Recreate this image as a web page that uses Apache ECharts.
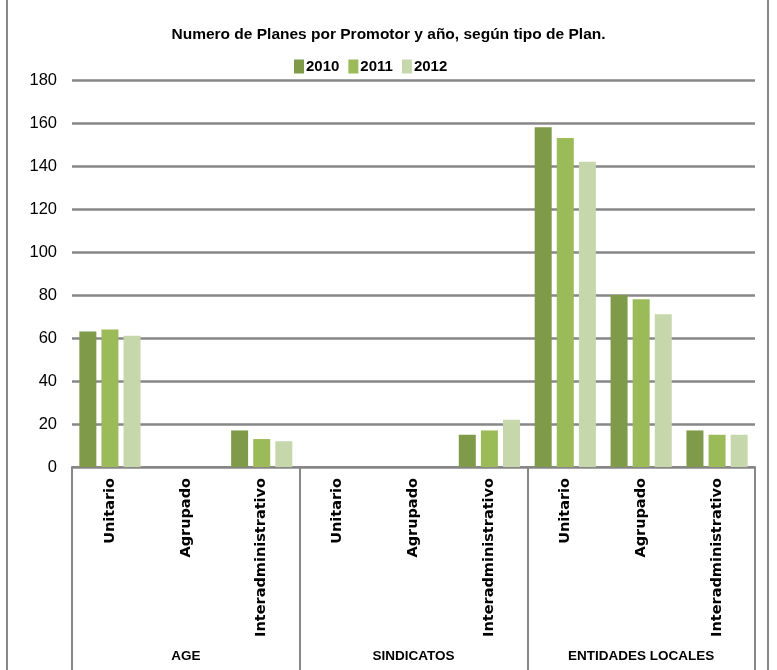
<!DOCTYPE html>
<html>
<head>
<meta charset="utf-8">
<script src="https://cdn.jsdelivr.net/npm/echarts@6/dist/echarts.min.js"></script>
<style>
  html, body { margin: 0; padding: 0; background: #fff; }
  #chart { width: 777px; height: 670px; }
</style>
</head>
<body>
<div id="chart"></div>
<script>
// categories
const tipos = ['Unitario', 'Agrupado', 'Interadministrativo',
               'Unitario', 'Agrupado', 'Interadministrativo',
               'Unitario', 'Agrupado', 'Interadministrativo']
const promotores = ['AGE', 'SINDICATOS', 'ENTIDADES LOCALES']
const years = ['2010', '2011', '2012']

// series values (AGE x3, SINDICATOS x3, ENTIDADES LOCALES x3)
const v2010 = [63, 0, 17, 0, 0, 15, 158, 80, 17]
const v2011 = [64, 0, 13, 0, 0, 17, 153, 78, 15]
const v2012 = [61, 0, 12, 0, 0, 22, 142, 71, 15]

const yTicks = [0, 20, 40, 60, 80, 100, 120, 140, 160, 180]

const colors = ['#7f9a48', '#9bbb59', '#c7d7ac']
const gray = '#878787'
const font = "'Liberation Sans', sans-serif"

const chart = echarts.init(document.getElementById('chart'))

const mkSeries = (name, data, i) => ({
    name,
    type: 'bar',
    data,
    barWidth: 17,
    barGap: '30%',
    itemStyle: { color: colors[i] }
})

const option = {
    animation: false,
    color: colors,
    title: {
        text: 'Numero de Planes por Promotor y año, según tipo de Plan.',
        left: 'center',
        top: 22,
        textStyle: {
            fontFamily: font,
            fontSize: 15.5,
            fontWeight: 'bold',
            color: '#000'
        }
    },
    legend: {
        data: years,
        top: 54,
        left: 289,
        itemWidth: 10,
        itemHeight: 14,
        itemGap: 9,
        icon: 'rect',
        textStyle: {
            fontFamily: font,
            fontSize: 15,
            fontWeight: 'bold',
            color: '#000',
            padding: [0, 0, 0, -3]
        }
    },
    grid: {
        left: 72,
        right: 22,
        top: 80,
        bottom: 203,
        containLabel: false
    },
    xAxis: [
        {
            type: 'category',
            data: tipos,
            axisLine: { show: true, lineStyle: { color: gray, width: 2 } },
            axisTick: { show: false },
            axisLabel: {
                interval: 0,
                rotate: 90,
                margin: 11,
                fontFamily: "'DejaVu Sans', sans-serif",
                fontSize: 14.5,
                fontWeight: 'bold',
                color: '#000'
            }
        },
        {
            type: 'category',
            data: promotores,
            position: 'bottom',
            axisLine: { show: false },
            axisTick: { show: true, length: 205, lineStyle: { color: gray, width: 2 } },
            axisLabel: {
                interval: 0,
                margin: 182,
                fontFamily: font,
                fontSize: 13.5,
                fontWeight: 'bold',
                color: '#000'
            }
        }
    ],
    yAxis: {
        type: 'value',
        min: yTicks[0],
        max: yTicks[yTicks.length - 1],
        interval: 20,
        axisLine: { show: false },
        axisTick: { show: false },
        splitLine: { lineStyle: { color: gray, width: 2.5 } },
        axisLabel: {
            margin: 15,
            fontFamily: font,
            fontSize: 16.5,
            color: '#000'
        }
    },
    graphic: [
        { type: 'line', shape: { x1: 7, y1: 0, x2: 7, y2: 670 }, style: { stroke: gray, lineWidth: 2 } },
        { type: 'line', shape: { x1: 768, y1: 0, x2: 768, y2: 670 }, style: { stroke: gray, lineWidth: 2 } }
    ],
    series: [
        mkSeries(years[0], v2010, 0),
        mkSeries(years[1], v2011, 1),
        mkSeries(years[2], v2012, 2)
    ]
}

chart.setOption(option)
</script>
</body>
</html>
